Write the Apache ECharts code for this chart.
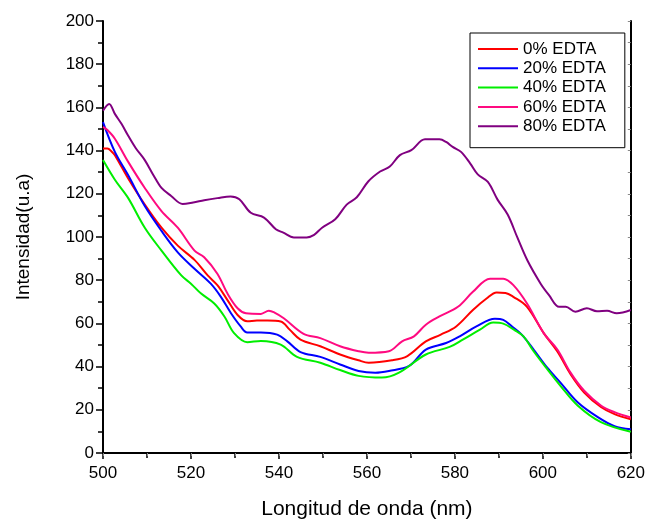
<!DOCTYPE html>
<html>
<head>
<meta charset="utf-8">
<script src="https://cdn.jsdelivr.net/npm/echarts@6/dist/echarts.min.js"></script>
<style>
  html, body { margin: 0; padding: 0; background: #fff; }
  #chart { width: 648px; height: 525px; }
</style>
</head>
<body>
<div id="chart"></div>
<script>
// Emission spectra for increasing EDTA content
const seriesNames = ['0% EDTA', '20% EDTA', '40% EDTA', '60% EDTA', '80% EDTA'];
const seriesColors = ['#ff0000', '#0000ff', '#00ee00', '#ff0a80', '#800080'];

const wl0 = [500, 501, 502, 502.7, 505.7, 509.5, 513.3, 517, 520.8, 523.8, 526, 528.3, 530.6, 532.8, 535, 537.4, 540.4, 542.5, 544.9, 549.4, 553.9, 558.1, 560.4, 565.7, 569.2, 573.4, 576.8, 580.3, 584.1, 587.2, 589.5, 591.5, 593.3, 596.4, 600.2, 603.3, 606.3, 609.4, 613.2, 616.3, 620];
const int0 = [141, 141, 139.5, 137.9, 127.2, 115, 104.3, 96, 89.4, 82.2, 77.7, 70.8, 63.9, 61, 61.3, 61.3, 60.9, 57, 52.5, 49.4, 45.6, 42.9, 41.8, 42.9, 44.9, 51.7, 54.8, 58.6, 66.2, 71.5, 74.3, 74.1, 72.3, 67.7, 55.5, 47, 36.5, 28, 21.3, 18, 15.6];

const wl20 = [500, 502.7, 505.7, 509.5, 513.3, 517, 520.8, 524.5, 526.8, 529.1, 531.3, 532.8, 535.9, 539.6, 541.9, 544.9, 549.4, 553.9, 558.1, 561.9, 565, 569.6, 573.4, 578, 581.1, 584.9, 589.1, 591, 593, 595.2, 597.9, 601, 604, 607.9, 612.5, 616.3, 620];
const int20 = [153.2, 139.4, 128.7, 114.3, 102.8, 92.9, 85.3, 78.4, 72.3, 64.7, 58.6, 55.8, 55.8, 54.8, 51.7, 46.7, 44.5, 41, 38, 37.2, 38, 40.3, 47.9, 50.9, 54, 58.6, 62.1, 61.6, 58.5, 54.8, 47.9, 39.5, 32.6, 23.5, 16.6, 12.4, 11];

const wl40 = [500, 502.7, 505.7, 509.5, 513.3, 517.8, 520, 522.3, 525.3, 527.6, 529.8, 532.8, 535.9, 540.4, 544.1, 549.4, 553.9, 558.1, 563.4, 567.3, 573.4, 578.8, 581.8, 585.7, 588.7, 591, 593.5, 595.6, 597.9, 601, 604, 607.9, 613.2, 620];
const int40 = [135.6, 126.5, 118.1, 104.3, 93.7, 82.2, 78.4, 73.8, 69.2, 63.2, 55.5, 51.3, 51.9, 50.2, 44.5, 41.8, 38.4, 35.7, 34.9, 37.2, 45.6, 49.1, 52.5, 57.1, 60.4, 59.9, 57, 54, 47.1, 38.8, 31.1, 22, 14.3, 9.8];

const wl60 = [500, 501, 502.7, 505.7, 509.5, 513.3, 517, 520.8, 523, 526, 528.3, 530.6, 532.5, 535.9, 537.7, 539, 541.1, 545.6, 549.4, 553.9, 558.1, 560.4, 565, 568, 570.7, 573.4, 576.5, 580.7, 584.1, 588, 591, 593.3, 596.4, 600.2, 603.3, 606.3, 609.4, 613.2, 616.3, 620];
const int60 = [151, 149.5, 145.5, 134.9, 122.7, 112, 104.3, 93.7, 90.6, 83, 73.8, 67, 64.7, 64.4, 65.9, 65, 62.4, 55.2, 53.2, 49.4, 47.1, 46.4, 47.1, 51.7, 54, 59.4, 63.2, 67.7, 74.6, 80.7, 80.7, 77.7, 69.2, 55.5, 47.9, 37.2, 28.8, 22, 18.9, 16.4];

const wl80 = [500, 501.4, 502.7, 504.2, 505.7, 507.5, 509.5, 511.5, 513.3, 515.5, 518.1, 520.5, 523, 526, 529, 531, 533.6, 536.6, 539.3, 541, 543.4, 546.3, 548, 549.8, 552.8, 555.4, 557.7, 560.3, 563, 565.2, 567.5, 570.1, 573.2, 576.5, 578, 579.5, 581.4, 583.5, 585.2, 587.5, 589.7, 592, 594.2, 596.5, 599.5, 601.4, 603.7, 605.2, 607.4, 610, 612.3, 614.6, 616.8, 620];
const int80 = [158.5, 161.6, 157, 152.4, 147, 141, 135.6, 128.5, 122.7, 119, 115.3, 116, 117, 118, 118.8, 117.5, 111.2, 109, 103.6, 102, 99.8, 99.8, 101, 104.3, 108.2, 115, 118.4, 125.7, 130.3, 132.6, 137.9, 140.2, 145.2, 145.2, 144, 141.7, 139.4, 134, 129, 125.5, 117.3, 110.4, 99.8, 89.1, 78.4, 73.1, 67.7, 67.7, 65.4, 67, 65.6, 65.8, 64.7, 66.2];

const wavelengths = [wl0, wl20, wl40, wl60, wl80];
const intensities = [int0, int20, int40, int60, int80];

const FONT = '"Liberation Sans", Arial, sans-serif';

const chart = echarts.init(document.getElementById('chart'), null, { renderer: 'canvas' });

const series = seriesNames.map((name, i) => ({
  name: name,
  type: 'line',
  data: wavelengths[i].map((x, k) => [x, intensities[i][k]]),
  symbol: 'none',
  smooth: 0.35,
  lineStyle: { color: seriesColors[i], width: 2 },
  itemStyle: { color: seriesColors[i] },
  z: 2 + i
}));

const axisLine = { show: true, lineStyle: { color: '#000', width: 2 } };

chart.setOption({
  animation: false,
  backgroundColor: '#fff',
  grid: { left: 103, right: 14, top: 21, bottom: 67, containLabel: false },
  legend: {
    orient: 'vertical',
    left: 470,
    top: 33,
    padding: [6.5, 19, 12, 8],
    icon: 'rect',
    itemWidth: 40,
    itemHeight: 2,
    itemGap: 0.3,
    borderColor: '#000',
    borderWidth: 1,
    textStyle: { fontFamily: FONT, fontSize: 17, color: '#000', lineHeight: 19 },
    data: seriesNames
  },
  xAxis: [{
    type: 'value',
    min: 500, max: 620, interval: 20,
    name: 'Longitud de onda (nm)',
    nameLocation: 'middle',
    nameGap: 46,
    nameTextStyle: { fontFamily: FONT, fontSize: 21, color: '#000' },
    axisLine: axisLine,
    axisTick: { show: true, inside: false, length: 6, lineStyle: { color: '#000', width: 1.5 } },
    minorTick: { show: true, splitNumber: 2, length: 5, lineStyle: { color: '#000', width: 1.5 } },
    axisLabel: { fontFamily: FONT, fontSize: 17, color: '#000', margin: 12 },
    splitLine: { show: false }
  }, {
    type: 'value',
    position: 'top',
    min: 500, max: 620, interval: 10,
    axisLine: axisLine,
    axisTick: { show: true, inside: true, length: 3, lineStyle: { color: '#888', width: 1 } },
    axisLabel: { show: false },
    splitLine: { show: false }
  }],
  yAxis: [{
    type: 'value',
    min: 0, max: 200, interval: 20,
    name: 'Intensidad(u.a)',
    nameLocation: 'middle',
    nameGap: 70,
    nameRotate: 90,
    nameTextStyle: { fontFamily: FONT, fontSize: 19, color: '#000' },
    axisLine: axisLine,
    axisTick: { show: true, inside: false, length: 7, lineStyle: { color: '#000', width: 1.5 } },
    minorTick: { show: true, splitNumber: 2, length: 5, lineStyle: { color: '#000', width: 1.5 } },
    axisLabel: { fontFamily: FONT, fontSize: 17, color: '#000', margin: 9 },
    splitLine: { show: false }
  }, {
    type: 'value',
    position: 'right',
    min: 0, max: 200, interval: 10,
    axisLine: axisLine,
    axisTick: { show: true, inside: true, length: 3, lineStyle: { color: '#888', width: 1 } },
    axisLabel: { show: false },
    splitLine: { show: false }
  }],
  series: series
});
</script>
</body>
</html>
